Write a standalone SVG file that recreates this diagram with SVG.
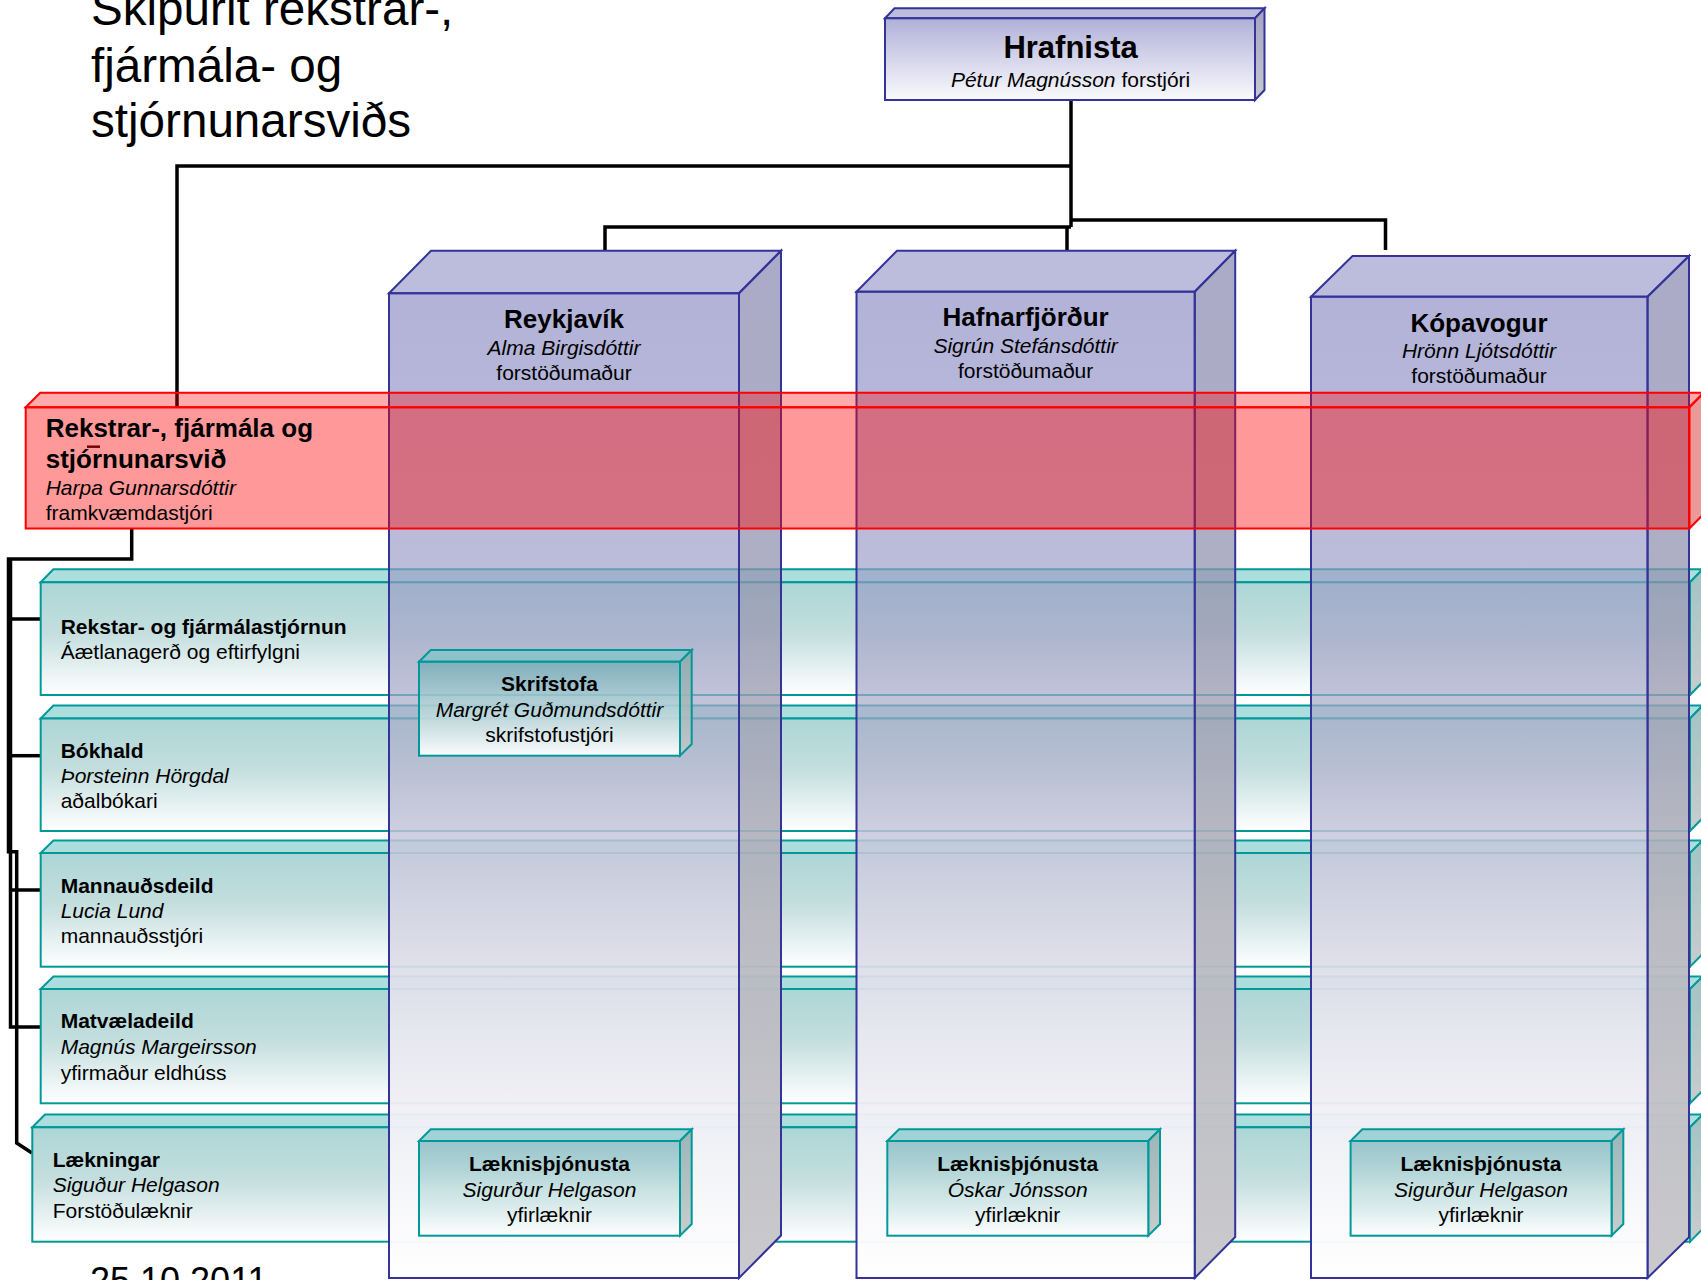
<svg xmlns="http://www.w3.org/2000/svg" width="1701" height="1280" viewBox="0 0 1701 1280">
<style>
.t{font-family:"Liberation Sans",Arial,sans-serif;fill:#000}
.b{font-weight:bold}
.i{font-style:italic}
.s21{font-size:21px}
.s26{font-size:26px}
.ttl{font-size:47.6px}
.c{text-anchor:middle}
.conn{stroke:#000;stroke-width:3.5;fill:none}
.ce{stroke:#333399;stroke-width:2}
.te{stroke:#009999;stroke-width:2}
.re{stroke:#ff0000;stroke-width:2}
</style>
<defs>
<linearGradient id="gColF" x1="0" y1="0" x2="0" y2="1">
<stop offset="0" stop-color="#8080c0" stop-opacity="0.6"/>
<stop offset="0.43" stop-color="#a8aac8" stop-opacity="0.7"/>
<stop offset="0.6" stop-color="#d0d0e0" stop-opacity="0.88"/>
<stop offset="0.75" stop-color="#e8e8f0" stop-opacity="0.95"/>
<stop offset="1" stop-color="#ffffff" stop-opacity="0.97"/>
</linearGradient>
<linearGradient id="gColS" x1="0" y1="0" x2="0" y2="1">
<stop offset="0" stop-color="#7373a3" stop-opacity="0.6"/>
<stop offset="0.45" stop-color="#a0a0b4" stop-opacity="0.8"/>
<stop offset="0.65" stop-color="#b8b8c0" stop-opacity="0.95"/>
<stop offset="1" stop-color="#cacacd" stop-opacity="1"/>
</linearGradient>
<linearGradient id="gHraF" x1="0" y1="0" x2="0" y2="1">
<stop offset="0" stop-color="#b0b0d8"/>
<stop offset="1" stop-color="#fafafd"/>
</linearGradient>
<linearGradient id="gHraS" x1="0" y1="0" x2="0" y2="1">
<stop offset="0" stop-color="#a4a4c4"/>
<stop offset="1" stop-color="#c8c8cc"/>
</linearGradient>
<linearGradient id="gTealF" x1="0" y1="0" x2="0" y2="1">
<stop offset="0" stop-color="#acd6d6"/>
<stop offset="0.45" stop-color="#c4dede"/>
<stop offset="1" stop-color="#ffffff"/>
</linearGradient>
<linearGradient id="gTealS" x1="0" y1="0" x2="0" y2="1">
<stop offset="0" stop-color="#a2c4c4"/>
<stop offset="1" stop-color="#c8cccc"/>
</linearGradient>
<linearGradient id="gBoxF" x1="0" y1="0" x2="0" y2="1">
<stop offset="0" stop-color="#60a8b0" stop-opacity="0.6"/>
<stop offset="0.5" stop-color="#b8dada" stop-opacity="0.75"/>
<stop offset="1" stop-color="#ffffff" stop-opacity="0.95"/>
</linearGradient>
<linearGradient id="gBoxS" x1="0" y1="0" x2="0" y2="1">
<stop offset="0" stop-color="#86a8aa" stop-opacity="0.8"/>
<stop offset="1" stop-color="#c4c8c8" stop-opacity="0.9"/>
</linearGradient>
</defs>
<rect x="0" y="0" width="1701" height="1280" fill="#ffffff"/>

<g id="title">
<text class="t ttl" x="91" y="25">Skipurit rekstrar-,</text>
<text class="t ttl" x="91" y="81.7">fjármála- og</text>
<text class="t ttl" x="91" y="137.3">stjórnunarsviðs</text>
</g>

<g id="connectors">
<path class="conn" d="M1071,100 V227"/>
<path class="conn" d="M1071,166 H177 V407"/>
<path class="conn" d="M1071,227 H605 V251"/>
<path class="conn" d="M1067,227 V251"/>
<path class="conn" d="M1071,220 H1385.5 V250"/>
<path class="conn" d="M131.7,529 V559 H8.5 V851.7 H16.7 V1143 L32,1153"/>
<path class="conn" d="M10.5,559 V1027 H40.7"/>
<path class="conn" d="M10.5,619 H40.7"/>
<path class="conn" d="M10.5,755.7 H40.7"/>
<path class="conn" d="M10.5,890 H40.7"/>
</g>

<g id="hrafnista">
<polygon points="885,18.3 894.5,8.3 1264.5,8.3 1255,18.3" fill="#bcbcdc" class="ce"/>
<polygon points="1255,18.3 1264.5,8.3 1264.5,90 1255,100" fill="url(#gHraS)" class="ce"/>
<rect x="885" y="18.3" width="370" height="81.7" fill="url(#gHraF)" class="ce"/>
<text class="t b c" x="1070.6" y="58.3" style="font-size:31px">Hrafnista</text>
<text class="t s21 c" x="1070.6" y="86.7"><tspan class="i">Pétur Magnússon</tspan> forstjóri</text>
</g>

<g id="row1">
<polygon points="40.7,582.3 53.4,569.3 1702.7,569.3 1690,582.3" fill="#acdede" class="te"/>
<polygon points="1690,582.3 1702.7,569.3 1702.7,682 1690,695" fill="url(#gTealS)" class="te"/>
<rect x="40.7" y="582.3" width="1649.3" height="112.7" fill="url(#gTealF)" class="te"/>
<text class="t b s21" x="60.7" y="634.3">Rekstar- og fjármálastjórnun</text>
<text class="t s21" x="60.7" y="659.3">Áætlanagerð og eftirfylgni</text>
</g>
<g id="row2">
<polygon points="40.7,718.5 53.4,705.5 1702.7,705.5 1690,718.5" fill="#acdede" class="te"/>
<polygon points="1690,718.5 1702.7,705.5 1702.7,818 1690,831" fill="url(#gTealS)" class="te"/>
<rect x="40.7" y="718.5" width="1649.3" height="112.5" fill="url(#gTealF)" class="te"/>
<text class="t b s21" x="60.7" y="757.7">Bókhald</text>
<text class="t i s21" x="60.7" y="782.7">Þorsteinn Hörgdal</text>
<text class="t s21" x="60.7" y="808.3">aðalbókari</text>
</g>
<g id="row3">
<polygon points="40.7,853 53.4,840.5 1702.7,840.5 1690,853" fill="#acdede" class="te"/>
<polygon points="1690,853 1702.7,840.5 1702.7,954 1690,966.7" fill="url(#gTealS)" class="te"/>
<rect x="40.7" y="853" width="1649.3" height="113.7" fill="url(#gTealF)" class="te"/>
<text class="t b s21" x="60.7" y="892.7">Mannauðsdeild</text>
<text class="t i s21" x="60.7" y="917.7">Lucia Lund</text>
<text class="t s21" x="60.7" y="943.3">mannauðsstjóri</text>
</g>
<g id="row4">
<polygon points="40.7,989 53.4,976.5 1702.7,976.5 1690,989" fill="#acdede" class="te"/>
<polygon points="1690,989 1702.7,976.5 1702.7,1090.6 1690,1103.3" fill="url(#gTealS)" class="te"/>
<rect x="40.7" y="989" width="1649.3" height="114.3" fill="url(#gTealF)" class="te"/>
<text class="t b s21" x="60.7" y="1028.3">Matvæladeild</text>
<text class="t i s21" x="60.7" y="1054.3">Magnús Margeirsson</text>
<text class="t s21" x="60.7" y="1080">yfirmaður eldhúss</text>
</g>
<g id="row5">
<polygon points="32.3,1127.3 45,1114.6 1702.7,1114.6 1690,1127.3" fill="#acdede" class="te"/>
<polygon points="1690,1127.3 1702.7,1114.6 1702.7,1229 1690,1241.7" fill="url(#gTealS)" class="te"/>
<rect x="32.3" y="1127.3" width="1657.7" height="114.4" fill="url(#gTealF)" class="te"/>
<text class="t b s21" x="52.7" y="1166.7">Lækningar</text>
<text class="t i s21" x="52.7" y="1191.7">Siguður Helgason</text>
<text class="t s21" x="52.7" y="1217.7">Forstöðulæknir</text>
</g>

<g id="reykjavik">
<polygon points="389,293.3 431,250.8 781,250.8 739,293.3" fill="#8f8fc5" fill-opacity="0.6" class="ce"/>
<polygon points="739,293.3 781,250.8 781,1235.5 739,1278" fill="url(#gColS)" class="ce"/>
<rect x="389" y="293.3" width="350" height="984.7" fill="url(#gColF)" class="ce"/>
<text class="t b s26 c" x="564" y="328.3">Reykjavík</text>
<text class="t i s21 c" x="564" y="355">Alma Birgisdóttir</text>
<text class="t s21 c" x="564" y="380">forstöðumaður</text>
</g>
<g id="hafnarfjordur">
<polygon points="856.5,291.7 897,250.7 1235.2,250.7 1194.7,291.7" fill="#8f8fc5" fill-opacity="0.6" class="ce"/>
<polygon points="1194.7,291.7 1235.2,250.7 1235.2,1237 1194.7,1278" fill="url(#gColS)" class="ce"/>
<rect x="856.5" y="291.7" width="338.2" height="986.3" fill="url(#gColF)" class="ce"/>
<text class="t b s26 c" x="1025.6" y="326">Hafnarfjörður</text>
<text class="t i s21 c" x="1025.6" y="353.3">Sigrún Stefánsdóttir</text>
<text class="t s21 c" x="1025.6" y="378.3">forstöðumaður</text>
</g>
<g id="kopavogur">
<polygon points="1311,296.7 1352.5,256 1689,256 1647.5,296.7" fill="#8f8fc5" fill-opacity="0.6" class="ce"/>
<polygon points="1647.5,296.7 1689,256 1689,1237.3 1647.5,1278" fill="url(#gColS)" class="ce"/>
<rect x="1311" y="296.7" width="336.5" height="981.3" fill="url(#gColF)" class="ce"/>
<text class="t b s26 c" x="1479" y="331.7">Kópavogur</text>
<text class="t i s21 c" x="1479" y="358.3">Hrönn Ljótsdóttir</text>
<text class="t s21 c" x="1479" y="383.3">forstöðumaður</text>
</g>

<g id="rekstrarsvid">
<polygon points="25.7,407.3 40.2,392.7 1703.8,392.7 1689.3,407.3" fill="#ff0000" fill-opacity="0.33" class="re"/>
<polygon points="1689.3,407.3 1703.8,392.7 1703.8,513.9 1689.3,528.5" fill="#cc0000" fill-opacity="0.4" class="re"/>
<rect x="25.7" y="407.3" width="1663.6" height="121.2" fill="#ff0000" fill-opacity="0.4" class="re"/>
<line x1="87" y1="446.7" x2="100" y2="446.7" stroke="#7a0000" stroke-width="2.5"/>
<text class="t b s26" x="45.7" y="436.7">Rekstrar-, fjármála og</text>
<text class="t b s26" x="45.7" y="468.3">stjórnunarsvið</text>
<text class="t i s21" x="45.7" y="495">Harpa Gunnarsdóttir</text>
<text class="t s21" x="45.7" y="520">framkvæmdastjóri</text>
</g>

<g id="skrifstofa">
<polygon points="419,661.7 430.7,650 691.7,650 680,661.7" fill="#80c4c8" fill-opacity="0.7" class="te"/>
<polygon points="680,661.7 691.7,650 691.7,744 680,755.7" fill="url(#gBoxS)" class="te"/>
<rect x="419" y="661.7" width="261" height="94" fill="url(#gBoxF)" class="te"/>
<text class="t b s21 c" x="549.5" y="690.7">Skrifstofa</text>
<text class="t i s21 c" x="549.5" y="717.3">Margrét Guðmundsdóttir</text>
<text class="t s21 c" x="549.5" y="741.7">skrifstofustjóri</text>
</g>
<g id="laekn-reykjavik">
<polygon points="419,1141 430.7,1129.3 691.7,1129.3 680,1141" fill="#80c4c8" fill-opacity="0.7" class="te"/>
<polygon points="680,1141 691.7,1129.3 691.7,1224 680,1235.7" fill="url(#gBoxS)" class="te"/>
<rect x="419" y="1141" width="261" height="94.7" fill="url(#gBoxF)" class="te"/>
<text class="t b s21 c" x="549.5" y="1170.7">Læknisþjónusta</text>
<text class="t i s21 c" x="549.5" y="1196.7">Sigurður Helgason</text>
<text class="t s21 c" x="549.5" y="1221.7">yfirlæknir</text>
</g>
<g id="laekn-hafnarfjordur">
<polygon points="887.3,1141 899,1129.3 1160,1129.3 1148.3,1141" fill="#80c4c8" fill-opacity="0.7" class="te"/>
<polygon points="1148.3,1141 1160,1129.3 1160,1224 1148.3,1235.7" fill="url(#gBoxS)" class="te"/>
<rect x="887.3" y="1141" width="261" height="94.7" fill="url(#gBoxF)" class="te"/>
<text class="t b s21 c" x="1017.7" y="1170.7">Læknisþjónusta</text>
<text class="t i s21 c" x="1017.7" y="1196.7">Óskar Jónsson</text>
<text class="t s21 c" x="1017.7" y="1221.7">yfirlæknir</text>
</g>
<g id="laekn-kopavogur">
<polygon points="1350.6,1141 1362.3,1129.3 1623.3,1129.3 1611.6,1141" fill="#80c4c8" fill-opacity="0.7" class="te"/>
<polygon points="1611.6,1141 1623.3,1129.3 1623.3,1224 1611.6,1235.7" fill="url(#gBoxS)" class="te"/>
<rect x="1350.6" y="1141" width="261" height="94.7" fill="url(#gBoxF)" class="te"/>
<text class="t b s21 c" x="1481" y="1170.7">Læknisþjónusta</text>
<text class="t i s21 c" x="1481" y="1196.7">Sigurður Helgason</text>
<text class="t s21 c" x="1481" y="1221.7">yfirlæknir</text>
</g>

<g id="footer">
<text class="t" x="90" y="1292.5" style="font-size:36px">25.10.2011</text>
</g>
</svg>
